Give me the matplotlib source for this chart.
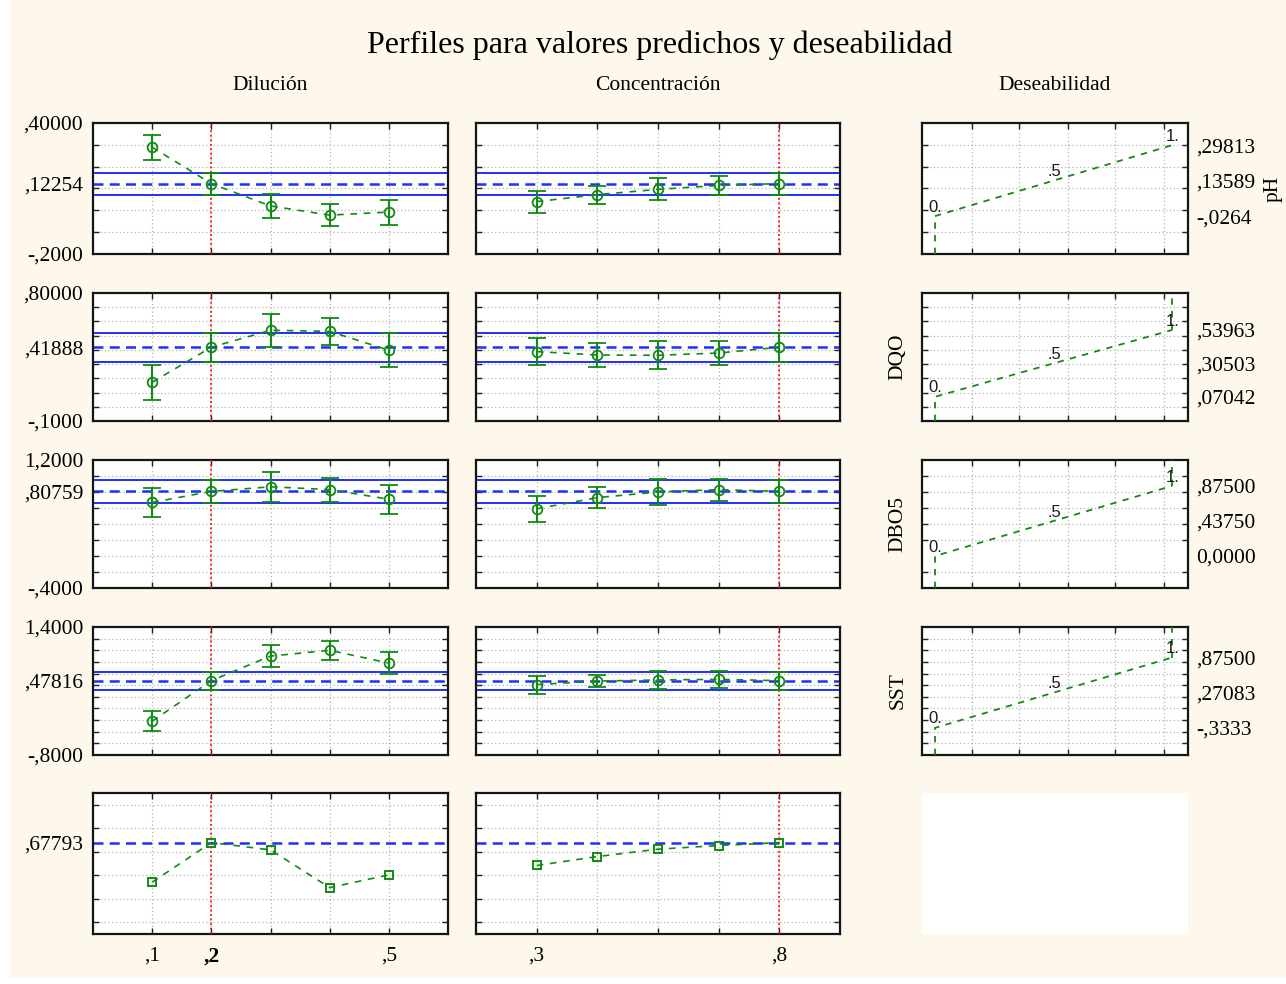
import numpy as np
import matplotlib
matplotlib.use("Agg")
import matplotlib.pyplot as plt
from matplotlib.patches import Rectangle

# ---- factor levels -------------------------------------------------------
dilucion = [0.1, 0.2, 0.3, 0.4, 0.5]
concentracion = [0.3, 0.425, 0.55, 0.675, 0.8]
dil_current = 0.2
con_current = 0.8

# ---- predicted responses (mean, confidence half-width) ------------------
ph_dil = [0.289, 0.12254, 0.020, -0.022, -0.008]
ph_dil_err = [0.058, 0.0504, 0.057, 0.050, 0.057]
ph_con = [0.040, 0.072, 0.096, 0.114, 0.12254]
ph_con_err = [0.050, 0.041, 0.050, 0.042, 0.0504]
ph_current, ph_ci = 0.12254, 0.0504

dqo_dil = [0.172, 0.41888, 0.538, 0.530, 0.398]
dqo_dil_err = [0.122, 0.1015, 0.117, 0.095, 0.118]
dqo_con = [0.388, 0.364, 0.362, 0.378, 0.41888]
dqo_con_err = [0.095, 0.085, 0.097, 0.083, 0.1015]
dqo_current, dqo_ci = 0.41888, 0.1015

dbo5_dil = [0.67, 0.80759, 0.865, 0.83, 0.71]
dbo5_dil_err = [0.185, 0.147, 0.185, 0.151, 0.183]
dbo5_con = [0.59, 0.73, 0.80, 0.83, 0.80759]
dbo5_con_err = [0.159, 0.132, 0.160, 0.137, 0.147]
dbo5_current, dbo5_ci = 0.80759, 0.147

sst_dil = [-0.22, 0.47816, 0.90, 1.00, 0.78]
sst_dil_err = [0.175, 0.154, 0.183, 0.160, 0.183]
sst_con = [0.41, 0.47, 0.49, 0.50, 0.47816]
sst_con_err = [0.155, 0.105, 0.154, 0.140, 0.154]
sst_current, sst_ci = 0.47816, 0.154

# overall desirability
desir_dil = [0.341, 0.67793, 0.616, 0.295, 0.403]
desir_con = [0.483, 0.559, 0.622, 0.653, 0.67793]
desir_current = 0.67793

# response values at desirability 0, .5 and 1
ph_spec = [-0.0264, 0.13589, 0.29813]
dqo_spec = [0.07042, 0.30503, 0.53963]
dbo5_spec = [0.0, 0.4375, 0.875]
sst_spec = [-0.3333, 0.27083, 0.875]
spec_levels = [0.0, 0.5, 1.0]
spec_labels = ["0.", ".5", "1."]

# axis ranges and grid steps
ph_range, ph_step = (-0.2, 0.4), 0.1
dqo_range, dqo_step = (-0.1, 0.8), 0.1
dbo5_range, dbo5_step = (-0.4, 1.2), 0.2
sst_range, sst_step = (-0.8, 1.4), 0.2
desir_range, desir_step = (-0.1, 1.1), 0.2
desir_grid_x = [0.155, 0.355, 0.56, 0.76, 0.965]

title = "Perfiles para valores predichos y deseabilidad"
col_titles = ["Dilución", "Concentración", "Deseabilidad"]

# ---- styling --------------------------------------------------------------
SERIF = ["Liberation Serif", "DejaVu Serif"]
SANS = ["Liberation Sans", "DejaVu Sans"]
GREEN = "#138a13"
BLUE = "#1f2fff"
RED = "#ff1010"
GRID = "#b4b4b4"
CREAM = "#fef8ec"
FS = 15.5

W, H = 1286, 984
fig = plt.figure(figsize=(W / 100, H / 100), dpi=100)
fig.patch.set_facecolor("white")
fig.patches.append(Rectangle((10 / W, 1 - 978 / H), (W - 10) / W, 978 / H,
                             transform=fig.transFigure, facecolor=CREAM,
                             edgecolor="none", zorder=-10))

cols_px = [(93, 448), (476, 840), (922, 1188)]
rows_px = [(123, 254), (293, 421), (460, 588), (627, 755), (793, 934)]


def px_axes(col, row):
    l, r = cols_px[col]
    t, b = rows_px[row]
    return fig.add_axes([l / W, 1 - b / H, (r - l) / W, (b - t) / H])


def stat_fmt(v):
    if v == 0:
        return "0,0000"
    if abs(v) >= 1:
        s = f"{v:.4f}"
    elif v < 0:
        s = f"{v:.4f}".replace("-0.", "-.")
    else:
        s = f"{v:.5f}"[1:]
    return s.replace(".", ",")


def base_style(ax, yrange, ystep):
    ax.set_facecolor("white")
    ax.set_ylim(*yrange)
    grid = np.arange(yrange[0] + ystep, yrange[1] - ystep / 2, ystep)
    ax.set_yticks(grid, minor=True)
    ax.grid(which="minor", axis="y", color=GRID, ls=(0, (1, 2)), lw=0.9, zorder=0)
    ax.grid(which="major", axis="x", color=GRID, ls=(0, (1, 2)), lw=0.9, zorder=0)
    for s in ax.spines.values():
        s.set_linewidth(1.6)
        s.set_color("#151515")
    ax.tick_params(which="both", direction="in", top=True, bottom=True,
                   left=True, right=True, length=4, width=1.0, color="#222222")
    ax.tick_params(axis="y", which="major", length=0)
    ax.set_axisbelow(True)


def profile(ax, x, y, err, xcur, ycur, ci, square=False):
    if ci:
        ax.axhline(ycur + ci, color=BLUE, lw=1.4, zorder=2)
        ax.axhline(ycur - ci, color=BLUE, lw=1.4, zorder=2)
    ax.axhline(ycur, color=BLUE, lw=1.8, ls=(0, (4, 2.5)), zorder=2)
    ax.axvline(xcur, color=RED, lw=1.3, ls=(0, (1, 1.5)), zorder=3)
    ax.plot(x, y, color=GREEN, lw=1.2, ls=(0, (4, 4)), zorder=4)
    if square:
        ax.plot(x, y, ls="none", marker="s", ms=6, mfc="none", mec=GREEN,
                mew=1.4, zorder=5)
    else:
        ax.errorbar(x, y, yerr=err, fmt="o", ms=7, mfc="none", mec=GREEN,
                    mew=1.3, ecolor=GREEN, elinewidth=1.5, capsize=6.2,
                    capthick=1.5, zorder=5)


rows = [
    ("pH", ph_range, ph_step, ph_current, ph_ci, ph_dil, ph_dil_err, ph_con, ph_con_err, ph_spec),
    ("DQO", dqo_range, dqo_step, dqo_current, dqo_ci, dqo_dil, dqo_dil_err, dqo_con, dqo_con_err, dqo_spec),
    ("DBO5", dbo5_range, dbo5_step, dbo5_current, dbo5_ci, dbo5_dil, dbo5_dil_err, dbo5_con, dbo5_con_err, dbo5_spec),
    ("SST", sst_range, sst_step, sst_current, sst_ci, sst_dil, sst_dil_err, sst_con, sst_con_err, sst_spec),
]

factor_x = [dilucion, concentracion]
factor_cur = [dil_current, con_current]
factor_lim = [(0.0, 0.6), (0.175, 0.925)]

for r, (name, yr, ys, cur, ci, ydil, edil, ycon, econ, spec) in enumerate(rows):
    for c, (yv, ev) in enumerate([(ydil, edil), (ycon, econ)]):
        ax = px_axes(c, r)
        base_style(ax, yr, ys)
        ax.set_xlim(*factor_lim[c])
        ax.set_xticks(factor_x[c])
        ax.tick_params(axis="x", labelbottom=False)
        profile(ax, factor_x[c], yv, ev, factor_cur[c], cur, ci)
        if c == 0:
            ax.set_yticks([yr[0], cur, yr[1]])
            ax.set_yticklabels([stat_fmt(v) for v in (yr[0], cur, yr[1])],
                               family=SERIF, fontsize=FS)
            ax.tick_params(axis="y", which="major", pad=7)
        else:
            ax.set_yticks([])
    # desirability function of the response
    ax = px_axes(2, r)
    base_style(ax, yr, ys)
    ax.set_xlim(-0.055, 1.068)
    ax.set_xticks(desir_grid_x)
    ax.tick_params(axis="x", labelbottom=False)
    ax.plot([spec_levels[0]] + spec_levels, [yr[0]] + spec,
            color=GREEN, lw=1.3, ls=(0, (3.5, 3.5)), zorder=4)
    if r > 0:
        ax.plot([spec_levels[-1], spec_levels[-1]], [spec[-1], yr[1]],
                color=GREEN, lw=1.3, ls=(0, (3.5, 3.5)), zorder=4)
    for lv, sv, lab in zip(spec_levels, spec, spec_labels):
        ax.annotate(lab, (lv, sv), xytext=(0.5, 1.0), textcoords="offset points",
                    ha="center", va="bottom", family=SANS, fontsize=12,
                    color="#1a1a1a", zorder=6)
    ax.set_yticks(spec)
    ax.set_yticklabels([stat_fmt(v) for v in spec], family=SERIF, fontsize=FS)
    ax.tick_params(axis="y", which="major", labelleft=False, labelright=True, pad=6)
    t, b = rows_px[r]
    if r == 0:
        fig.text(1264 / W, 1 - (t + b) / 2 / H, name, rotation=90, ha="left",
                 va="center", family=SERIF, fontsize=FS)
    else:
        fig.text(898 / W, 1 - (t + b) / 2 / H, name, rotation=90, ha="center",
                 va="center", family=SERIF, fontsize=FS)

# overall desirability row
for c, yv in enumerate([desir_dil, desir_con]):
    ax = px_axes(c, 4)
    base_style(ax, desir_range, desir_step)
    ax.set_yticks(np.arange(0.0, 1.01, desir_step), minor=True)
    ax.set_xlim(*factor_lim[c])
    ax.set_xticks(factor_x[c])
    xl = factor_x[c]
    labels = [f"{v:.1f}"[1:].replace(".", ",") if (i == 0 or i == len(xl) - 1 or v == factor_cur[c]) else ""
              for i, v in enumerate(xl)]
    ax.set_xticklabels(labels, family=SERIF, fontsize=FS)
    for lab, v in zip(ax.get_xticklabels(), xl):
        if v == factor_cur[c] and c == 0:
            lab.set_fontweight("bold")
    ax.tick_params(axis="x", which="major", pad=9)
    profile(ax, xl, yv, None, factor_cur[c], desir_current, 0, square=True)
    if c == 0:
        ax.set_yticks([desir_current])
        ax.set_yticklabels([stat_fmt(desir_current)], family=SERIF, fontsize=FS)
        ax.tick_params(axis="y", which="major", pad=7)
    else:
        ax.set_yticks([])

# empty panel in the desirability column
l, r_ = cols_px[2]
t, b = rows_px[4]
fig.patches.append(Rectangle((l / W, 1 - b / H), (r_ - l) / W, (b - t) / H,
                             transform=fig.transFigure, facecolor="white",
                             edgecolor="none", zorder=-5))

# titles
fig.text(660 / W, 1 - 45 / H, title, ha="center", va="center",
         family=SERIF, fontsize=23)
for (l, r_), ct in zip(cols_px, col_titles):
    fig.text((l + r_) / 2 / W, 1 - 85 / H, ct, ha="center", va="center",
             family=SERIF, fontsize=FS)

fig.savefig("out.png", dpi=100, facecolor=fig.get_facecolor())
